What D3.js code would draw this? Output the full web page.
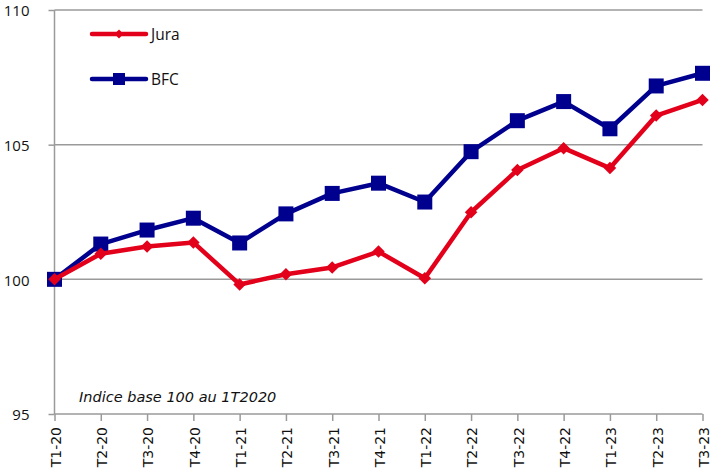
<!DOCTYPE html>
<html><head><meta charset="utf-8">
<script src="https://cdn.jsdelivr.net/npm/d3@7"></script>
<style>body{margin:0;background:#fff;}svg{display:block;font-family:"Open Sans",sans-serif;}</style>
</head><body><svg id="c" width="724" height="476"></svg>
<script>
const categories = ["T1-20","T2-20","T3-20","T4-20","T1-21","T2-21","T3-21","T4-21","T1-22","T2-22","T3-22","T4-22","T1-23","T2-23","T3-23"];
const jura = [100, 100.95, 101.22, 101.37, 99.81, 100.19, 100.44, 101.03, 100.04, 102.49, 104.06, 104.87, 104.13, 106.08, 106.66];
const bfc  = [100, 101.31, 101.83, 102.27, 101.35, 102.43, 103.19, 103.57, 102.87, 104.74, 105.89, 106.6, 105.59, 107.18, 107.65];
const yTicks = [95, 100, 105, 110];

const svg = d3.select("#c");
const L = 54.5, R = 702.5, T = 10, B = 414;
const x = d3.scalePoint().domain(categories).range([L, R]);
const y = d3.scaleLinear().domain([95, 110]).range([B, T]);
const grid = "#9a9a9a";
const font = "'Open Sans', sans-serif";
const wide = "'DejaVu Sans', sans-serif";

svg.append("g").selectAll("line").data(yTicks.slice(1)).join("line")
  .attr("x1", L).attr("x2", R).attr("y1", d => y(d)).attr("y2", d => y(d))
  .attr("stroke", grid).attr("stroke-width", 1.5);

const ya = svg.append("g").attr("transform", `translate(${L},0)`)
  .call(d3.axisLeft(y).tickValues(yTicks).tickSize(6).tickPadding(19).tickFormat(d3.format("d")));
ya.select(".domain").attr("stroke", grid).attr("stroke-width", 1.5).attr("d", `M0,${T}V${B}`);
ya.selectAll(".tick line").attr("stroke", grid).attr("stroke-width", 1.5);
ya.selectAll(".tick text").attr("font-size", 15).attr("fill", "#111").attr("font-family", font)
  .attr("dy", "0.38em");

const xa = svg.append("g").attr("transform", `translate(0,${B})`)
  .call(d3.axisBottom(x).tickSize(7).tickPadding(4));
xa.select(".domain").attr("stroke", grid).attr("stroke-width", 1.5).attr("d", `M${L},0H${R}`);
xa.selectAll(".tick line").attr("stroke", grid).attr("stroke-width", 1.5);
xa.selectAll(".tick text").attr("font-size", 14).attr("fill", "#111").attr("font-family", wide)
  .attr("transform", "rotate(-90)").attr("text-anchor", "end")
  .attr("x", -13).attr("y", 0).attr("dy", "0.42em");

svg.append("text").attr("x", 79).attr("y", 402).attr("font-size", 14.5).attr("font-family", wide)
  .attr("font-style", "italic").attr("fill", "#111").text("Indice base 100 au 1T2020");

const red = "#e3001b", blue = "#00008f";
const line = d3.line().x((d, i) => x(categories[i])).y(d => y(d));

svg.append("path").datum(bfc).attr("d", line).attr("fill", "none")
  .attr("stroke", blue).attr("stroke-width", 4.5).attr("stroke-linejoin", "round");
svg.append("g").selectAll("rect").data(bfc).join("rect")
  .attr("x", (d, i) => x(categories[i]) - 7.5).attr("y", d => y(d) - 7.5)
  .attr("width", 15).attr("height", 15).attr("fill", blue);

svg.append("path").datum(jura).attr("d", line).attr("fill", "none")
  .attr("stroke", red).attr("stroke-width", 4.5).attr("stroke-linejoin", "round");
svg.append("g").selectAll("path").data(jura).join("path")
  .attr("d", d3.symbol(d3.symbolDiamond2, 100))
  .attr("transform", (d, i) => `translate(${x(categories[i])},${y(d)})`)
  .attr("fill", red);

const leg = [{n: "Jura", c: red, t: "d", yy: 34}, {n: "BFC", c: blue, t: "s", yy: 79}];
leg.forEach(l => {
  const g = svg.append("g");
  g.append("line").attr("x1", 92).attr("x2", 146).attr("y1", l.yy).attr("y2", l.yy)
    .attr("stroke", l.c).attr("stroke-width", 4.5).attr("stroke-linecap", "round");
  if (l.t === "d") {
    g.append("path").attr("d", d3.symbol(d3.symbolDiamond2, 50))
      .attr("transform", `translate(119,${l.yy})`).attr("fill", l.c);
  } else {
    g.append("rect").attr("x", 113).attr("y", l.yy - 6).attr("width", 12).attr("height", 12).attr("fill", l.c);
  }
  g.append("text").attr("x", 151).attr("y", l.yy).attr("dy", "0.36em").attr("font-family", font)
    .attr("font-size", 15.5).attr("fill", "#111").text(l.n);
});
</script></body></html>
